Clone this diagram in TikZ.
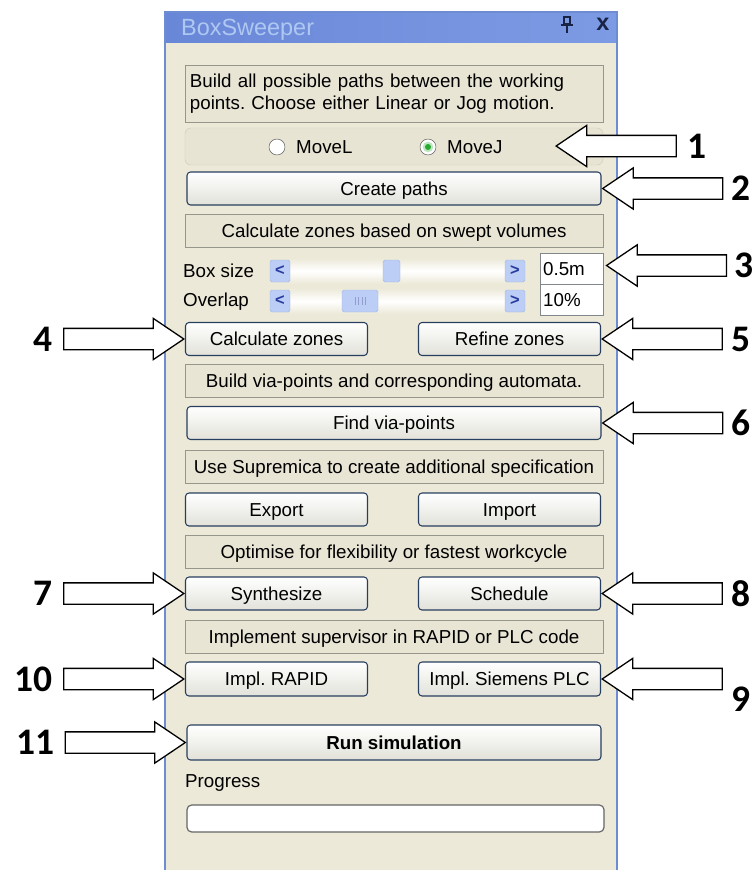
\documentclass[tikz,border=0pt]{standalone}
\usepackage{fontspec}
\setmainfont{Liberation Sans}
\newfontfamily\numfont{Carlito}
\usepackage{tikz}
\usetikzlibrary{shapes.arrows,positioning,calc}
\frenchspacing

\definecolor{panelbg}{RGB}{236,233,216}
\definecolor{hdrbg}{RGB}{232,229,213}
\definecolor{hdredge}{RGB}{150,150,140}
\definecolor{btnedge}{RGB}{40,62,95}
\definecolor{btnlow}{RGB}{226,226,218}
\definecolor{titleblue}{RGB}{105,135,215}
\definecolor{titlelight}{RGB}{125,155,228}
\definecolor{titletext}{RGB}{175,200,242}
\definecolor{scrollblue}{RGB}{188,206,245}
\definecolor{scrolledge}{RGB}{160,182,228}
\definecolor{arrowblue}{RGB}{40,60,160}
\definecolor{radiogreen}{RGB}{40,170,50}
\definecolor{valedge}{RGB}{130,135,140}
\definecolor{winedge}{RGB}{110,140,210}
\definecolor{iconnavy}{RGB}{25,35,70}

\begin{document}
\begin{tikzpicture}[
    x=0.03cm, y=-0.03cm,
    hdr/.style={rectangle, draw=hdredge, fill=hdrbg, minimum width=12.54cm, minimum height=0.99cm, inner sep=0pt, text height=11.5pt, text depth=0pt, font=\fontsize{16}{19}\selectfont},
    btn/.style={rectangle, draw=btnedge, line width=0.9pt, rounded corners=3pt, top color=white, bottom color=btnlow, minimum width=12.42cm, minimum height=0.99cm, inner sep=0pt, text height=11.5pt, text depth=0pt, font=\fontsize{16}{19}\selectfont},
    halfbtn/.style={btn, minimum width=5.46cm},
    sbtn/.style={rectangle, draw=scrolledge, fill=scrollblue, rounded corners=1.5pt, minimum width=0.6cm, minimum height=0.66cm, inner sep=0pt, font=\bfseries\fontsize{14}{14}\selectfont, text=arrowblue},
    track/.style={rectangle, top color=panelbg, bottom color=panelbg, middle color=white, minimum width=6.45cm, minimum height=0.78cm, inner sep=0pt},
    valbox/.style={rectangle, draw=valedge, fill=white, text width=1.7cm, align=left, inner xsep=0.1cm, inner ysep=0pt, minimum height=0.93cm, text height=11.5pt, text depth=0pt, font=\fontsize{16}{19}\selectfont},
    radio/.style={circle, draw=gray!60!black, fill=white, minimum size=0.48cm, inner sep=0pt},
    lbl/.style={inner sep=0pt, anchor=west, text height=11.5pt, text depth=0pt, font=\fontsize{16}{19}\selectfont},
    blockarrow/.style={single arrow, draw=black, fill=white, line width=1.1pt, minimum height=3.6cm, inner sep=0pt, inner ysep=0.3cm, single arrow head extend=0.3cm, single arrow tip angle=68},
    num/.style={inner sep=0pt, font=\numfont\bfseries\fontsize{32}{32}\selectfont}
]
\useasboundingbox (0,0) rectangle (753,870);

% Window
\fill[panelbg] (165,12) rectangle (617,870);
\node[rectangle, left color=titleblue, right color=titlelight, minimum width=13.56cm, minimum height=0.9cm, inner sep=0pt, anchor=north west] (titlebar) at (165,12) {};
\node[lbl, text=titletext, text height=14pt, font=\fontsize{20}{20}\selectfont] (title) at (181,27) {BoxSweeper};
\draw[iconnavy, line width=1.3pt] (564,17) rectangle (570,24) (561,25) -- (573,25) (567,25) -- (567,33);
\node[inner sep=0pt, text=iconnavy, font=\bfseries\fontsize{20}{20}\selectfont] (closex) at (603,24) {x};
\draw[winedge, line width=1pt] (165,870) -- (165,12) -- (617,12) -- (617,870);

% Paths
\node[hdr, minimum height=1.71cm, text width=12.24cm, align=left, inner xsep=0.15cm, text height=, text depth=] (hdrpaths) at (394,93.5) {Build all possible paths between the working\\points. Choose either Linear or Jog motion.};
\node[rectangle, rounded corners=5pt, draw={rgb,255:red,210;green,206;blue,190}, fill={rgb,255:red,232;green,228;blue,212}, minimum width=12.54cm, minimum height=1.11cm] (radiobox) at (394,146.5) {};
\node[radio] (radiol) at (277,147) {};
\node[lbl] (movel) at (296,147) {MoveL};
\node[radio] (radioj) at (428,147) {};
\node[circle, fill=radiogreen!30, minimum size=0.32cm, inner sep=0pt] at (radioj) {};
\node[circle, fill=radiogreen, minimum size=0.18cm, inner sep=0pt] at (radioj) {};
\node[lbl] (movej) at (447,147) {MoveJ};
\node[btn] (btncreate) at (394,188.5) {Create paths};

% Zones
\node[hdr] (hdrzones) at (394,231) {Calculate zones based on swept volumes};
\node[lbl] (lblsize) at (183,271) {Box size};
\node[track] (tracksize) at (397.5,271) {};
\node[sbtn] (sizeleft) at (280,271) {\textless};
\node[sbtn, minimum width=0.51cm] (sizethumb) at (391.5,271) {};
\node[sbtn] (sizeright) at (515,271) {\textgreater};
\node[lbl] (lbloverlap) at (183,300) {Overlap};
\node[track] (trackoverlap) at (397.5,301) {};
\node[sbtn] (overlapleft) at (280,301) {\textless};
\node[sbtn, minimum width=1.08cm] (overlapthumb) at (360,301) {};
\foreach \gx in {355,358.5,362,365.5}
    \draw[arrowblue!50] (\gx,297) -- (\gx,305);
\node[sbtn] (overlapright) at (515,301) {\textgreater};
\node[valbox] (valsize) at (571.5,268.5) {0.5m};
\node[valbox] (valoverlap) at (571.5,299.5) {10\%};
\node[halfbtn] (btncalc) at (276.5,339) {Calculate zones};
\node[halfbtn] (btnrefine) at (509.5,339) {Refine zones};

% Via-points
\node[hdr] (hdrvia) at (394,380.5) {Build via-points and corresponding automata.};
\node[btn] (btnvia) at (394,423) {Find via-points};

% Specification
\node[hdr] (hdrspec) at (394,466.5) {Use Supremica to create additional specification};
\node[halfbtn] (btnexport) at (276.5,509.5) {Export};
\node[halfbtn] (btnimport) at (509.5,509.5) {Import};

% Optimisation
\node[hdr] (hdropt) at (394,551.5) {Optimise for flexibility or fastest workcycle};
\node[halfbtn] (btnsynth) at (276.5,593.5) {Synthesize};
\node[halfbtn] (btnsched) at (509.5,593.5) {Schedule};

% Implementation
\node[hdr] (hdrimpl) at (394,636.5) {Implement supervisor in RAPID or PLC code};
\node[halfbtn, minimum height=1.02cm] (btnrapid) at (276.5,679) {Impl. RAPID};
\node[halfbtn, minimum height=1.02cm] (btnplc) at (509.5,679) {Impl. Siemens PLC};

% Simulation
\node[btn, minimum height=1.05cm, font=\bfseries\fontsize{16}{19}\selectfont] (btnrun) at (394,742.5) {Run simulation};
\node[lbl] (lblprog) at (185,781) {Progress};
\node[rectangle, rounded corners=4pt, draw={rgb,255:red,100;green,100;blue,100}, line width=1pt, fill=white, minimum width=12.51cm, minimum height=0.81cm] (progbar) at (395.5,818.5) {};

% Callouts right
\coordinate (movejtip) at (555,146);
\node[blockarrow, shape border rotate=180, anchor=tip] (arr1) at (movejtip) {};
\node[num, right=0.3cm of arr1.tail] (n1) {1};
\node[blockarrow, shape border rotate=180, anchor=tip] (arr2) at (btncreate.east) {};
\node[num, right=0.25cm of arr2.tail] (n2) {2};
\node[blockarrow, shape border rotate=180, anchor=tip] (arr3) at ($(valsize.east)+(2,-3)$) {};
\node[num, right=0.2cm of arr3.tail] (n3) {3};
\node[blockarrow, shape border rotate=180, anchor=tip] (arr5) at (btnrefine.east) {};
\node[num, right=0.25cm of arr5.tail] (n5) {5};
\node[blockarrow, shape border rotate=180, anchor=tip] (arr6) at (btnvia.east) {};
\node[num, right=0.25cm of arr6.tail] (n6) {6};
\node[blockarrow, shape border rotate=180, anchor=tip] (arr8) at (btnsched.east) {};
\node[num, right=0.25cm of arr8.tail] (n8) {8};
\node[blockarrow, shape border rotate=180, anchor=tip] (arr9) at (btnplc.east) {};
\node[num, below right=0.24cm and 0.24cm of arr9.tail] (n9) {9};

% Callouts left
\node[blockarrow, anchor=tip] (arr4) at (btncalc.west) {};
\node[num, left=0.3cm of arr4.tail] (n4) {4};
\node[blockarrow, anchor=tip] (arr7) at (btnsynth.west) {};
\node[num, left=0.3cm of arr7.tail] (n7) {7};
\node[blockarrow, anchor=tip] (arr10) at (btnrapid.west) {};
\node[num, left=0.3cm of arr10.tail] (n10) {10};
\node[blockarrow, anchor=tip] (arr11) at (btnrun.west) {};
\node[num, left=0.3cm of arr11.tail] (n11) {11};

\end{tikzpicture}
\end{document}
